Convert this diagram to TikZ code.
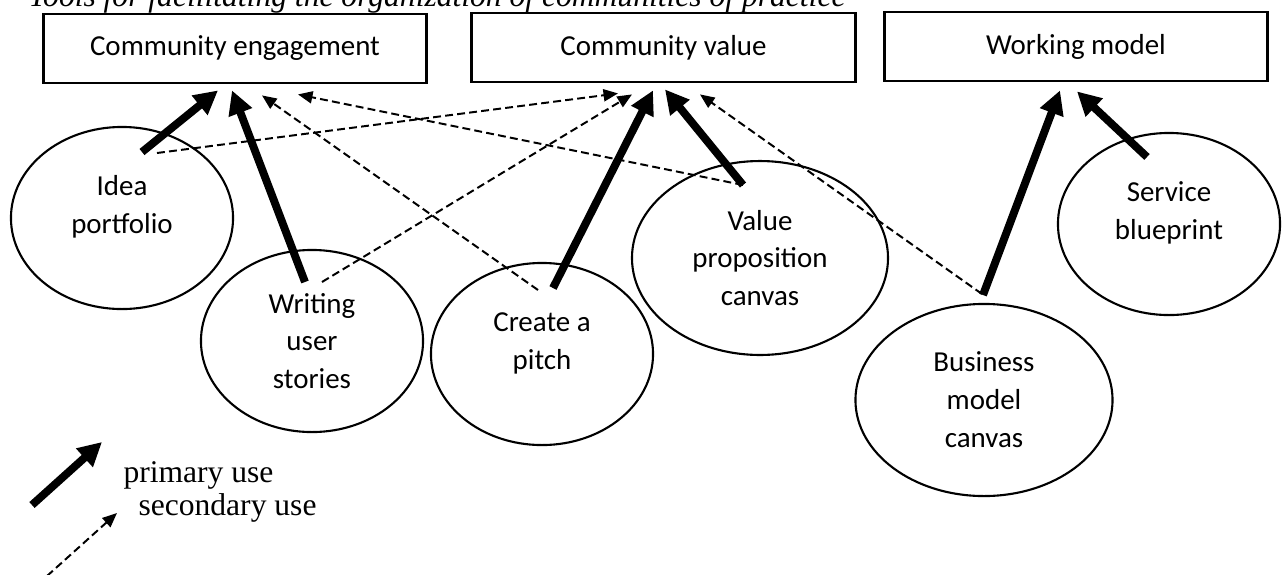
\documentclass[tikz,border=0pt]{standalone}
\usepackage{fontspec}
\setmainfont{Liberation Serif}
\newfontfamily\calibri{Carlito}
\usetikzlibrary{arrows.meta,shapes.geometric}
\tikzset{x=0.38pt,y=-0.38pt,
  box/.style={draw,line width=1.1pt,minimum width=145.6pt,minimum height=26.2pt,inner sep=0pt,font=\calibri\fontsize{11}{14.4}\selectfont},
  tool/.style={draw,ellipse,line width=0.8pt,minimum width=84.4pt,minimum height=69.2pt,inner sep=0pt,align=center,font=\calibri\fontsize{11}{14.4}\selectfont},
  raised/.style={text depth=10pt},
  legendtext/.style={anchor=base west,inner sep=0pt,font=\fontsize{12}{14}\selectfont},
  primary/.style={line width=3pt,-{Triangle[length=9pt,width=9pt]}},
  secondary/.style={line width=0.75pt,dash pattern=on 3pt off 1.6pt,-{Triangle[length=5.5pt,width=4.6pt]}}}

\begin{document}
\begin{tikzpicture}
  \useasboundingbox (0,0) rectangle (1282,574);

  \node[legendtext,font=\itshape\fontsize{12}{14}\selectfont] (title) at (28,6) {Tools for facilitating the organization of communities of practice};

  % goals
  \node[box] (ce) at (235,48.5) {Community engagement};
  \node[box] (cv) at (663.5,47.5) {Community value};
  \node[box] (wm) at (1076,46.5) {Working model};

  % tools
  \node[tool,raised] (idea) at (122,218) {Idea\\portfolio};
  \node[tool] (stories) at (312,341) {Writing\\user\\stories};
  \node[tool,raised] (pitch) at (542,354) {Create a\\pitch};
  \node[tool,minimum width=97.3pt,minimum height=73.7pt] (value) at (760,258) {Value\\proposition\\canvas};
  \node[tool,minimum width=97.7pt,minimum height=73pt] (business) at (984,400) {Business\\model\\canvas};
  \node[tool,raised] (service) at (1169,224) {Service\\blueprint};

  % primary use
  \draw[primary] ([shift={(20,-66)}]idea.center) -- ([shift={(-17,6)}]ce.south);
  \draw[primary] ([shift={(-7,-59)}]stories.center) -- ([shift={(-3,6)}]ce.south);
  \draw[primary] ([shift={(11,-66)}]pitch.center) -- ([shift={(-10.5,7)}]cv.south);
  \draw[primary] ([shift={(-17,-73)}]value.center) -- ([shift={(1.5,6)}]cv.south);
  \draw[primary] ([shift={(-1,-105)}]business.center) -- ([shift={(-16,8)}]wm.south);
  \draw[primary] ([shift={(-22,-67)}]service.center) -- ([shift={(1,9)}]wm.south);

  % secondary use
  \draw[secondary] ([shift={(35,-65)}]idea.center) -- ([shift={(-45.5,10)}]cv.south);
  \draw[secondary] ([shift={(10,-59)}]stories.center) -- ([shift={(-31.5,11)}]cv.south);
  \draw[secondary] ([shift={(-4,-64)}]pitch.center) -- ([shift={(27,11)}]ce.south);
  \draw[secondary] ([shift={(-17,-73)}]value.center) -- ([shift={(63,10)}]ce.south);
  \draw[secondary] ([shift={(-2,-106)}]business.center) -- ([shift={(36.5,11)}]cv.south);

  % legend
  \coordinate (pa) at (32,505);
  \coordinate (pb) at (102,442);
  \coordinate (sa) at (47,576);
  \coordinate (sb) at (117,513);
  \draw[primary] (pa) -- (pb);
  \draw[secondary] (sa) -- (sb);
  \node[legendtext] (plabel) at (123,482) {primary use};
  \node[legendtext] (slabel) at (138,515) {secondary use};
\end{tikzpicture}
\end{document}
